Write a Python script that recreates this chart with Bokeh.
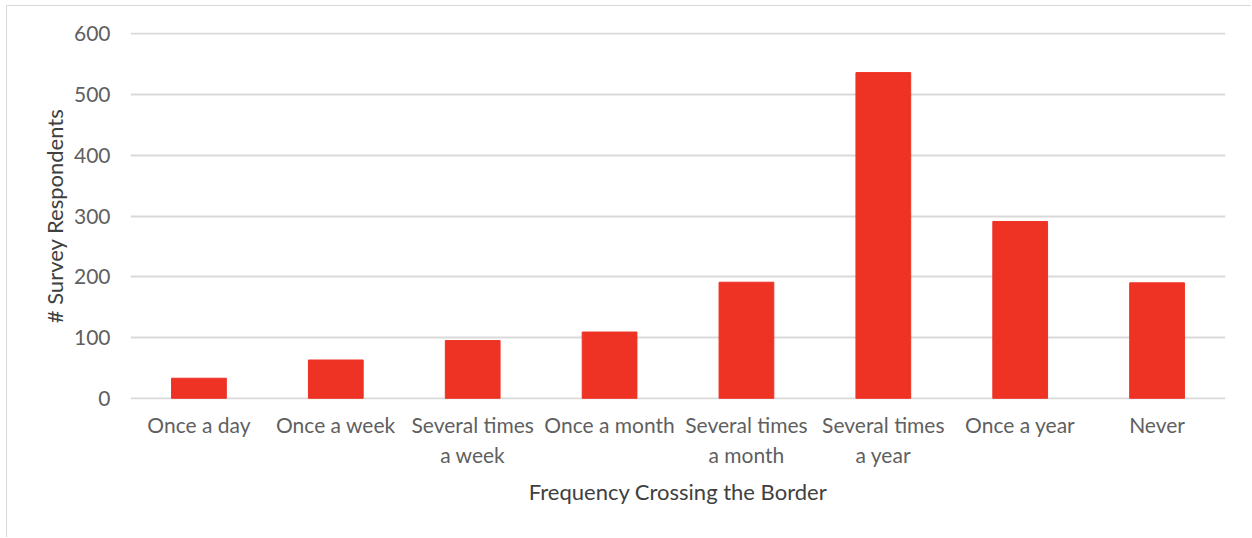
from bokeh.plotting import figure
from bokeh.models import Range1d, FactorRange
from bokeh.embed import file_html
from bokeh.resources import INLINE

# Survey responses by how often the respondent crosses the border
categories = [
    "Once a day",
    "Once a week",
    "Several times\na week",
    "Once a month",
    "Several times\na month",
    "Several times\na year",
    "Once a year",
    "Never",
]
respondents = [33, 63, 95, 109, 191, 536, 291, 190]
y_ticks = [0, 100, 200, 300, 400, 500, 600]

FONT = "Lato"
BAR_COLOR = "#EE3224"

p = figure(
    x_range=FactorRange(*categories, range_padding=0),
    y_range=Range1d(-2, 602),
    width=1245,
    height=532,
    output_backend="svg",
    toolbar_location=None,
    min_border_left=123,
    min_border_right=27,
    min_border_top=26,
    min_border_bottom=139,
    margin=(5, 0, 0, 6),
    styles={"border-top": "1px solid #d9d9d9", "border-left": "1px solid #d9d9d9"},
)

p.vbar(x=categories, top=respondents, width=0.4, color=BAR_COLOR)

p.outline_line_color = None
p.background_fill_color = "white"
p.border_fill_color = "white"

# horizontal gridlines only
p.xgrid.grid_line_color = None
p.ygrid.grid_line_color = "#d9d9d9"
p.ygrid.grid_line_width = 2
p.yaxis.ticker = y_ticks

for ax in (p.xaxis, p.yaxis):
    ax.axis_line_color = None
    ax.major_tick_line_color = None
    ax.minor_tick_line_color = None
    ax.major_label_text_font = FONT
    ax.major_label_text_font_size = "21px"
    ax.major_label_text_color = "#5f5f5f"
    ax.axis_label_text_font = FONT
    ax.axis_label_text_font_size = "22px"
    ax.axis_label_text_font_style = "normal"
    ax.axis_label_text_color = "#404040"

p.yaxis.major_label_standoff = 14
p.xaxis.major_label_standoff = 6
p.xaxis.axis_label = "Frequency Crossing the Border"
p.yaxis.axis_label = "# Survey Respondents"
p.xaxis.axis_label_standoff = 8
p.yaxis.axis_label_standoff = 3

open("out.html", "w").write(file_html(p, INLINE))
